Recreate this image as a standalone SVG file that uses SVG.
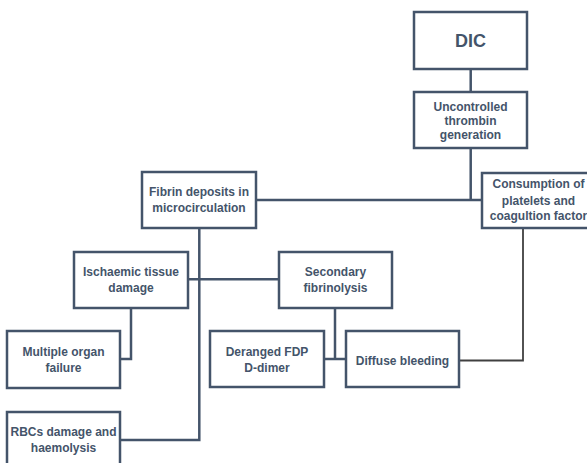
<svg xmlns="http://www.w3.org/2000/svg" width="587" height="463" viewBox="0 0 587 463">
<style>
.box{fill:#fff;stroke:#44546A;stroke-width:2.5}
.t{font-family:"Liberation Sans",Arial,sans-serif;font-weight:bold;font-size:12px;fill:#44546A;text-anchor:middle}
.big{font-size:18px}
.c{fill:none;stroke:#44546A;stroke-width:2.5}
.c2{fill:none;stroke:#404040;stroke-width:1.8}
</style>
<rect width="587" height="463" fill="#fff"/>
<g id="connectors">
<line class="c" x1="470.7" y1="69" x2="470.7" y2="92"/>
<line class="c" x1="470.7" y1="148" x2="470.7" y2="200"/>
<line class="c" x1="256" y1="200" x2="482" y2="200"/>
<polyline class="c" points="199.3,228 199.3,440 120,440"/>
<line class="c" x1="188" y1="279.3" x2="279" y2="279.3"/>
<polyline class="c" points="131,308 131,359 120,359"/>
<line class="c" x1="335" y1="308" x2="335" y2="359"/>
<line class="c" x1="324" y1="359" x2="346" y2="359"/>
<polyline class="c2" points="523,229 523,360.5 459,360.5"/>
</g>
<g id="dic"><rect class="box" x="414" y="12" width="113" height="57"/><text class="t big" x="470.5" y="46.5">DIC</text></g>
<g id="thrombin"><rect class="box" x="414" y="92" width="113" height="56"/><text class="t" x="470.5" y="110.5">Uncontrolled</text><text class="t" x="470.5" y="124.5">thrombin</text><text class="t" x="470.5" y="139">generation</text></g>
<g id="fibrin"><rect class="box" x="142" y="172" width="114" height="56"/><text class="t" x="199" y="196">Fibrin deposits in</text><text class="t" x="199" y="211.5">microcirculation</text></g>
<g id="consumption"><rect class="box" x="482" y="173" width="113" height="55"/><text class="t" x="538.5" y="188">Consumption of</text><text class="t" x="538.5" y="205">platelets and</text><text class="t" x="538.5" y="220">coagultion factor</text></g>
<g id="ischaemic"><rect class="box" x="74" y="252" width="114" height="56"/><text class="t" x="131" y="276">Ischaemic tissue</text><text class="t" x="131" y="291.5">damage</text></g>
<g id="secondary"><rect class="box" x="279" y="252" width="113" height="56"/><text class="t" x="335.5" y="276">Secondary</text><text class="t" x="335.5" y="291.5">fibrinolysis</text></g>
<g id="multiple"><rect class="box" x="7" y="331" width="113" height="57"/><text class="t" x="63.5" y="356">Multiple organ</text><text class="t" x="63.5" y="371.5">failure</text></g>
<g id="deranged"><rect class="box" x="210" y="331" width="114" height="56"/><text class="t" x="267" y="356">Deranged FDP</text><text class="t" x="267" y="371.5">D-dimer</text></g>
<g id="diffuse"><rect class="box" x="346" y="331" width="113" height="56"/><text class="t" x="402.5" y="364.5">Diffuse bleeding</text></g>
<g id="rbcs"><rect class="box" x="7" y="412" width="113" height="60"/><text class="t" x="63.5" y="436">RBCs damage and</text><text class="t" x="63.5" y="452">haemolysis</text></g>
</svg>
